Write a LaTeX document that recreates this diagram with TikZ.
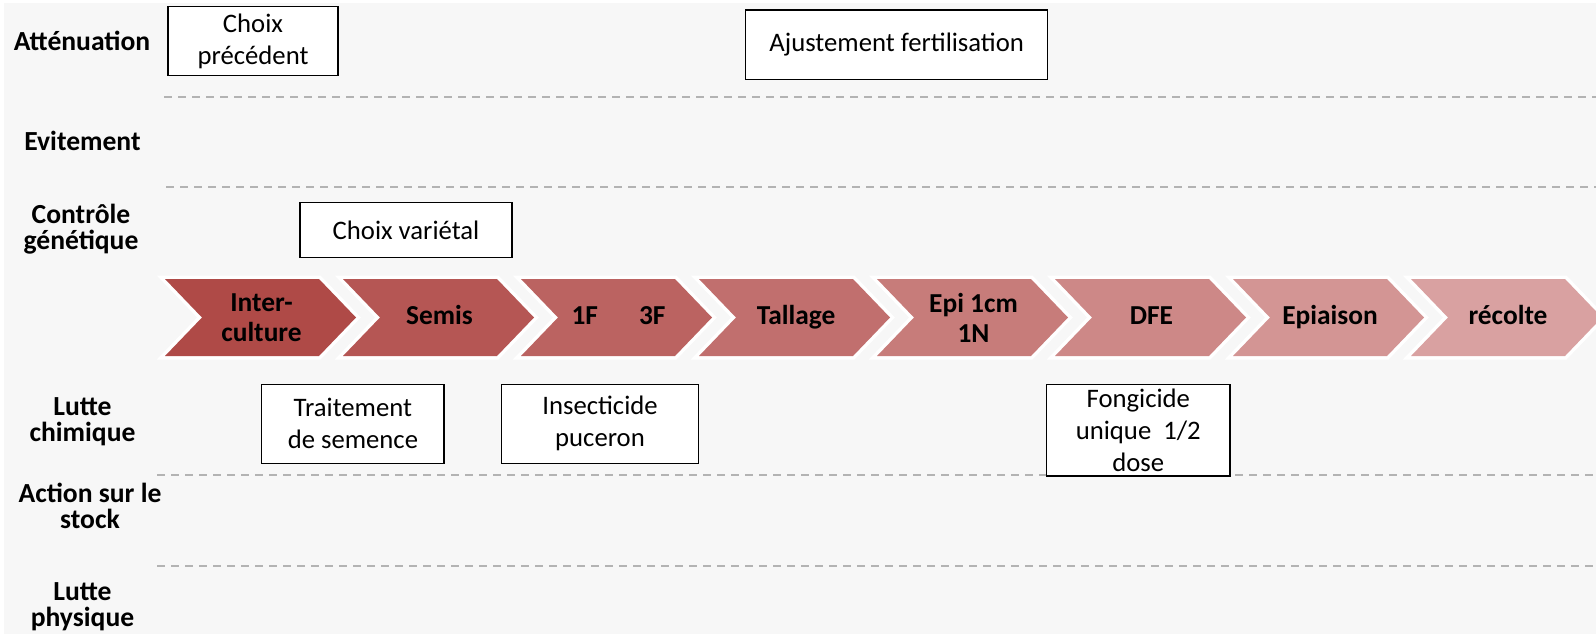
\documentclass[tikz,border=0pt]{standalone}
\usepackage{fontspec}
\setmainfont{Carlito}
\definecolor{bggray}{HTML}{F7F7F7}
\definecolor{sepgray}{HTML}{B3B3B3}
\definecolor{ch1}{RGB}{175,74,71}
\definecolor{ch2}{RGB}{181,86,84}
\definecolor{ch3}{RGB}{187,99,97}
\definecolor{ch4}{RGB}{193,111,110}
\definecolor{ch5}{RGB}{199,124,122}
\definecolor{ch6}{RGB}{205,136,135}
\definecolor{ch7}{RGB}{211,149,148}
\definecolor{ch8}{RGB}{217,161,161}
\newcommand\chevshape[2]{%
  \fill[#2, preaction={draw=white, line width=7pt, line join=miter}]
    (#1,279) -- ++(154,0) -- ++(37,38.5) -- ++(-37,38.5) -- ++(-154,0) -- ++(37,-38.5) -- cycle;}
\begin{document}
\begin{tikzpicture}[x=1pt,y=-1pt,
  rowlab/.style={font=\fontsize{27.6}{26}\selectfont\bfseries, align=center, inner sep=0pt},
  taskbox/.style={draw=black, line width=1.3pt, fill=white, align=center, inner sep=0pt,
                  font=\fontsize{26.7}{32}\selectfont},
  chevlab/.style={font=\fontsize{27.4}{30}\selectfont\bfseries, align=center, inner sep=0pt},
  oneline/.style={text height=18.5pt, text depth=5.5pt},
  sepline/.style={draw=sepgray, line width=2pt, dash pattern=on 8pt off 6pt},
]
\useasboundingbox (0,0) rectangle (1596,637);
\clip (0,0) rectangle (1596,637);
\fill[white] (0,0) rectangle (1596,637);
\fill[bggray] (4,3) rectangle (1596,634);

% separators
\draw[sepline] (164,97) -- (1596,97);
\draw[sepline] (166,187) -- (1596,187);
\draw[sepline] (157,475) -- (1596,475);
\draw[sepline] (157,566) -- (1596,566);

% row labels
\node[rowlab, anchor=base] (l1) at (82,50) {Atténuation};
\node[rowlab, anchor=base] (l2) at (82.5,150) {Evitement};
\node[rowlab] (l3) at (81,229.4) {Contrôle\\génétique};
\node[rowlab] (l4) at (82.5,422) {Lutte\\chimique};
\node[rowlab] (l5) at (90,506) {Action sur le\\stock};
\node[rowlab] (l6) at (82.5,607) {Lutte\\physique};

% chevrons
\chevshape{165}{ch1}
\chevshape{343}{ch2}
\chevshape{521}{ch3}
\chevshape{699}{ch4}
\chevshape{877}{ch5}
\chevshape{1055}{ch6}
\chevshape{1233}{ch7}
\chevshape{1411}{ch8}
\node[chevlab] (c1) at (261.5,317.5) {Inter-\\culture};
\node[chevlab, oneline] (c2) at (439.5,317.5) {Semis};
\node[chevlab, oneline] (c3) at (618.5,317.5) {1F\hspace{41pt}3F};
\node[chevlab, oneline] (c4) at (796,317.5) {Tallage};
\node[chevlab] (c5) at (973.5,317.5) {Epi 1cm\\1N};
\node[chevlab, oneline] (c6) at (1151.5,317.5) {DFE};
\node[chevlab, oneline] (c7) at (1330,317.5) {Epiaison};
\node[chevlab, oneline] (c8) at (1508,317.5) {récolte};

% boxes
\node[taskbox, minimum width=170, minimum height=69] (prec) at (253,41.2) {Choix\\précédent};
\node[taskbox, minimum width=302, minimum height=69.3] (fert) at (896.7,44.7) {Ajustement fertilisation};
\node[taskbox, minimum width=212, minimum height=55] (var) at (406,230.2) {Choix variétal};
\node[taskbox, minimum width=182.3, minimum height=79] (trait) at (352.9,423.8) {Traitement\\de semence};
\node[taskbox, minimum width=196.6, minimum height=79] (insect) at (600,423.8) {Insecticide\\puceron};
\node[taskbox, minimum width=183.3, minimum height=91.7] (fong) at (1138.3,430.2) {Fongicide\\unique~~1/2\\dose};
\end{tikzpicture}
\end{document}
